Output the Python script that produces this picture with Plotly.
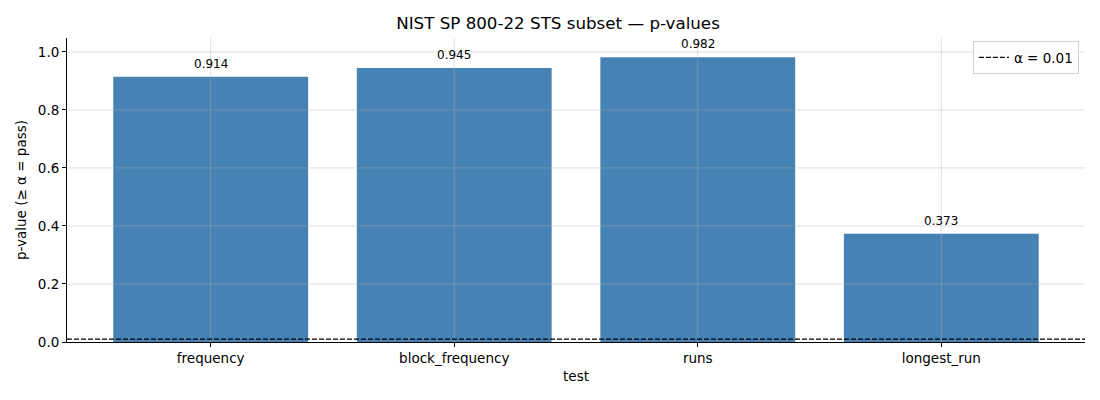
import plotly.graph_objects as go

# data
tests = ["frequency", "block_frequency", "runs", "longest_run"]
p_values = [0.914, 0.945, 0.982, 0.373]
y_ticks = [0.0, 0.2, 0.4, 0.6, 0.8, 1.0]
alpha = 0.01

FONT = "DejaVu Sans"
GRID = "rgba(176,176,176,0.4)"

fig = go.Figure()

fig.add_trace(go.Bar(
    x=list(range(len(tests))),
    y=p_values,
    width=0.8,
    marker=dict(color="#4682B4", line=dict(width=0)),
    showlegend=False,
))

# value labels over the bars
for i, v in enumerate(p_values):
    fig.add_annotation(
        x=i, y=v, text=f"{v:.3f}", showarrow=False,
        yanchor="bottom", yshift=4,
        font=dict(family=FONT, size=12, color="black"),
    )

# grid drawn on top of the bars (like the matplotlib original)
for i in range(len(tests)):
    fig.add_shape(type="line", xref="x", yref="y domain",
                  x0=i, x1=i, y0=0, y1=1,
                  line=dict(color=GRID, width=1), layer="above")
for t in y_ticks[1:]:
    fig.add_shape(type="line", xref="x domain", yref="y",
                  x0=0, x1=1, y0=t, y1=t,
                  line=dict(color=GRID, width=1), layer="above")

# significance threshold
fig.add_shape(
    type="line", xref="x domain", yref="y",
    x0=0, x1=1, y0=alpha, y1=alpha,
    line=dict(color="black", width=1.2, dash="5px,2px"),
    layer="above",
    showlegend=True, name=f"α = {alpha}",
)

# page body adds ~8px offset, margins compensate
fig.update_layout(
    width=1100, height=400,
    margin=dict(l=59, r=23, t=30, b=66),
    paper_bgcolor="white", plot_bgcolor="white",
    font=dict(family=FONT, size=13.5, color="black"),
    title=dict(text="NIST SP 800-22 STS subset — p-values",
               x=0.5, xanchor="center", y=0.977, yanchor="top",
               font=dict(size=16.7)),
    bargap=0.2,
    legend=dict(x=0.994, xanchor="right", y=0.99, yanchor="top",
                bordercolor="#d0d0d0", borderwidth=1,
                bgcolor="rgba(255,255,255,0.8)",
                font=dict(size=13.5)),
)

fig.update_xaxes(
    tickmode="array", tickvals=list(range(len(tests))), ticktext=tests,
    range=[-0.59, 3.59],
    title=dict(text="test", standoff=6, font=dict(size=13.5)),
    showline=True, linecolor="black", linewidth=1,
    ticks="outside", ticklen=4, tickcolor="black",
    showgrid=False, zeroline=False, layer="above traces",
)
fig.update_yaxes(
    range=[0, 1.048],
    tickvals=y_ticks,
    tickformat=".1f",
    title=dict(text="p-value (≥ α = pass)", standoff=8, font=dict(size=13.5)),
    showline=True, linecolor="black", linewidth=1,
    ticks="outside", ticklen=4, tickcolor="black",
    showgrid=False, zeroline=False, layer="above traces",
)

fig.write_html("out.html")
